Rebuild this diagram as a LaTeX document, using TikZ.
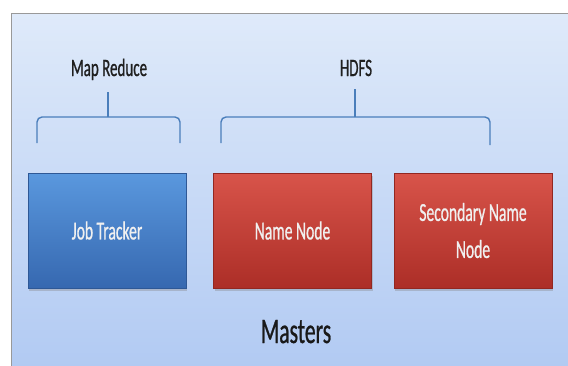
\documentclass[tikz,border=0pt]{standalone}
\usepackage{fontspec}
\setmainfont{Carlito}[FakeStretch=0.6,FakeBold=0.7]
\usetikzlibrary{shadows}
\definecolor{panelTop}{HTML}{DFEAFA}
\definecolor{panelBot}{HTML}{B0C9F2}
\definecolor{braceBlue}{HTML}{4A7EBB}
\definecolor{jtTop}{HTML}{5A98DE}
\definecolor{jtBot}{HTML}{3668B0}
\definecolor{nnTop}{HTML}{D8544A}
\definecolor{nnBot}{HTML}{AC2E27}
\tikzset{
  master/.style={minimum width=158pt, minimum height=115pt, inner sep=0pt,
    text=white!94!black, align=center, font=\fontsize{26}{37}\selectfont,
    drop shadow={opacity=0.35, shadow xshift=1pt, shadow yshift=-2.5pt}},
  jobbox/.style={master, top color=jtTop, bottom color=jtBot, draw=jtBot!85!black},
  namebox/.style={master, top color=nnTop, bottom color=nnBot, draw=nnBot!85!black},
  bracket/.style={braceBlue, line width=1.4pt, rounded corners=5pt},
  grouplabel/.style={anchor=base, text=black!88, font=\fontsize{25}{25}\selectfont}
}
\begin{document}
\begin{tikzpicture}[x=1pt,y=-1pt]
\useasboundingbox (0,0) rectangle (568,365);
%%% panel behind the masters
\fill[top color=panelTop, bottom color=panelBot] (11,13) rectangle (580,380);
\draw[gray!80, line width=0.8pt] (11,380) -- (11,13) -- (580,13);
%%% the three master daemons
\node[jobbox] (jobtracker) at (107,230.5) {Job Tracker};
\node[namebox] (namenode) at (292.5,230.5) {Name Node};
\node[namebox] (secnamenode) at (473,230.5) {Secondary Name\\Node};
%%% group labels
\node[grouplabel] (mapreduce) at (109,76) {Map Reduce};
\node[grouplabel] (hdfs) at (356,76) {HDFS};
\node[anchor=base, text=black!90, font=\fontsize{36}{36}\selectfont] (masters) at (296,343) {Masters};
%%% brackets
\draw[bracket] (37,143) -- (37,117) -- (180,117) -- (180,143);
\draw[braceBlue, line width=1.4pt] (108,117) -- (108,92);
\draw[bracket] (221,143) -- (221,117) -- (490,117) -- (490,145);
\draw[braceBlue, line width=1.4pt] (355,117) -- (355,89);
\end{tikzpicture}
\end{document}
